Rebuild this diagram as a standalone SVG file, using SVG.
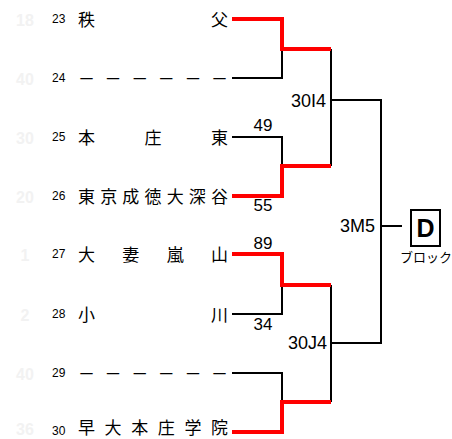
<svg xmlns="http://www.w3.org/2000/svg" width="452" height="439" viewBox="0 0 452 439">
<style>
.fade{font-family:"Liberation Sans",Arial,sans-serif;font-size:16px;font-weight:bold;fill:#f2f2f2;text-anchor:middle}
.seed{font-family:"Liberation Sans",Arial,sans-serif;font-size:12px;fill:#000}
.name{font-family:"Noto Sans CJK JP","Noto Sans CJK SC",sans-serif;font-size:17px;fill:#000}
.score{font-family:"Liberation Sans",Arial,sans-serif;font-size:17px;fill:#000;text-anchor:middle}
.match{font-family:"Liberation Sans",Arial,sans-serif;font-size:18px;fill:#000;text-anchor:end}
.blk{fill:none;stroke:#000;stroke-width:2}
.win{fill:none;stroke:#ff0000;stroke-width:4}
</style>
<rect width="452" height="439" fill="#fff"/>
<g id="connectors">
  <path class="blk" d="M232,78 H282 V49"/>
  <path class="blk" d="M232,137 H282 V166"/>
  <path class="blk" d="M232,314 H282 V285"/>
  <path class="blk" d="M232,373 H282 V402"/>
  <path class="blk" d="M331,49 V166"/>
  <path class="blk" d="M331,285 V402"/>
  <path class="blk" d="M331,100 H381 V343 H331"/>
  <path class="blk" d="M381,226 H402"/>
  <path class="win" d="M232,19 H282 V49 H331"/>
  <path class="win" d="M232,196 H282 V166 H331"/>
  <path class="win" d="M232,254 H282 V285 H331"/>
  <path class="win" d="M232,432 H282 V402 H331"/>
</g>
<g id="team23">
  <text class="fade" x="25" y="26">18</text>
  <text class="seed" x="52" y="23">23</text>
  <text class="name" x="78 211" y="26">秩父</text>
</g>
<g id="team24">
  <text class="fade" x="25" y="85">40</text>
  <text class="seed" x="52" y="82">24</text>
  <text class="name" x="78 104.6 131.2 157.8 184.4 211" y="85">－－－－－－</text>
</g>
<g id="team25">
  <text class="fade" x="25" y="144">30</text>
  <text class="seed" x="52" y="141">25</text>
  <text class="name" x="78 144.5 211" y="144">本庄東</text>
</g>
<g id="team26">
  <text class="fade" x="25" y="203">20</text>
  <text class="seed" x="52" y="200">26</text>
  <text class="name" x="78 100.17 122.33 144.5 166.67 188.83 211" y="203">東京成徳大深谷</text>
</g>
<g id="team27">
  <text class="fade" x="25" y="261">1</text>
  <text class="seed" x="52" y="258">27</text>
  <text class="name" x="78 122.33 166.67 211" y="261">大妻嵐山</text>
</g>
<g id="team28">
  <text class="fade" x="25" y="321">2</text>
  <text class="seed" x="52" y="318">28</text>
  <text class="name" x="78 211" y="321">小川</text>
</g>
<g id="team29">
  <text class="fade" x="25" y="380">40</text>
  <text class="seed" x="52" y="377">29</text>
  <text class="name" x="78 104.6 131.2 157.8 184.4 211" y="380">－－－－－－</text>
</g>
<g id="team30">
  <text class="fade" x="25" y="435">36</text>
  <text class="seed" x="52" y="435">30</text>
  <text class="name" x="78 104.6 131.2 157.8 184.4 211" y="434">早大本庄学院</text>
</g>
<g id="scores">
  <text class="score" x="263" y="131">49</text>
  <text class="score" x="263" y="211">55</text>
  <text class="score" x="263" y="249">89</text>
  <text class="score" x="263" y="330">34</text>
</g>
<g id="match-30I4"><text class="match" x="326" y="107">30I4</text></g>
<g id="match-30J4"><text class="match" x="327" y="349">30J4</text></g>
<g id="match-3M5"><text class="match" x="375" y="232">3M5</text></g>
<g id="block-D">
  <rect x="411" y="210" width="29" height="36" fill="#fff" stroke="#000" stroke-width="2"/>
  <text x="425.5" y="237" font-family="Liberation Sans,Arial,sans-serif" font-size="25" font-weight="bold" text-anchor="middle">D</text>
  <text x="426" y="262" font-family="Noto Sans CJK JP,sans-serif" font-size="13" text-anchor="middle">ブロック</text>
</g>
</svg>
